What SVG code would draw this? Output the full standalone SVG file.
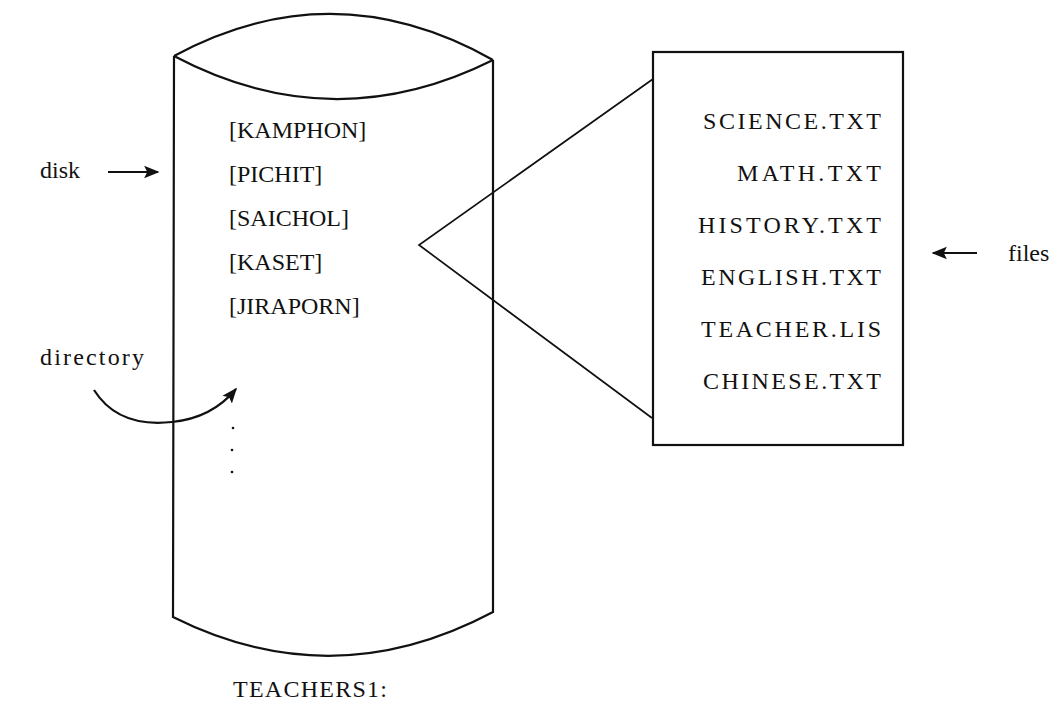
<svg xmlns="http://www.w3.org/2000/svg" width="1057" height="713" viewBox="0 0 1057 713">
<defs>
<style>
.t{font-family:"Liberation Serif","Times New Roman",serif;font-size:24px;fill:#111;}
.ln{fill:none;stroke:#111;stroke-width:2.2;}
.thin{fill:none;stroke:#111;stroke-width:1.7;}
</style>
<marker id="ah" viewBox="0 0 10 10" refX="9" refY="5" markerWidth="7" markerHeight="7" orient="auto" markerUnits="strokeWidth">
<path d="M0,1 L10,5 L0,9 L2,5 Z" fill="#111"/>
</marker>
</defs>
<rect width="1057" height="713" fill="#fff"/>
<g id="disk">
<path class="ln" d="M174,56 Q333,-30 493,60"/>
<path class="ln" d="M174,56 Q333,140 493,60"/>
<path class="ln" d="M174,56 L173,617 Q333,697 493,612 L493,60"/>
<text class="t" x="229" y="138">[KAMPHON]</text>
<text class="t" x="229" y="182">[PICHIT]</text>
<text class="t" x="229" y="226">[SAICHOL]</text>
<text class="t" x="229" y="270">[KASET]</text>
<text class="t" x="229" y="314">[JIRAPORN]</text>
<circle cx="233" cy="428" r="1.3" fill="#111"/>
<circle cx="232" cy="450" r="1.3" fill="#111"/>
<circle cx="232" cy="472" r="1.3" fill="#111"/>
<text class="t" x="233" y="697" textLength="154" lengthAdjust="spacing">TEACHERS1:</text>
</g>
<g id="files">
<rect class="ln" x="653" y="52" width="250" height="393"/>
<g class="t">
<text x="703" y="129" textLength="178" lengthAdjust="spacing">SCIENCE.TXT</text>
<text x="737" y="181" textLength="144" lengthAdjust="spacing">MATH.TXT</text>
<text x="698" y="233" textLength="183" lengthAdjust="spacing">HISTORY.TXT</text>
<text x="701" y="285" textLength="180" lengthAdjust="spacing">ENGLISH.TXT</text>
<text x="701" y="337" textLength="180" lengthAdjust="spacing">TEACHER.LIS</text>
<text x="703" y="389" textLength="178" lengthAdjust="spacing">CHINESE.TXT</text>
</g>
</g>
<g id="label-disk"><text class="t" x="40" y="178">disk</text></g>
<g id="label-directory"><text class="t" x="40" y="365" textLength="104" lengthAdjust="spacing">directory</text></g>
<g id="label-files"><text class="t" x="1008" y="261">files</text></g>
<g id="connectors">
<path class="thin" d="M653,79 L419,245 L652,418"/>
<line class="ln" x1="108" y1="172" x2="158" y2="172" marker-end="url(#ah)"/>
<line class="ln" x1="977" y1="253" x2="933" y2="253" marker-end="url(#ah)"/>
<path class="ln" d="M94,390 Q118,428 172,422 Q212,418 236,389" marker-end="url(#ah)"/>
</g>
</svg>
